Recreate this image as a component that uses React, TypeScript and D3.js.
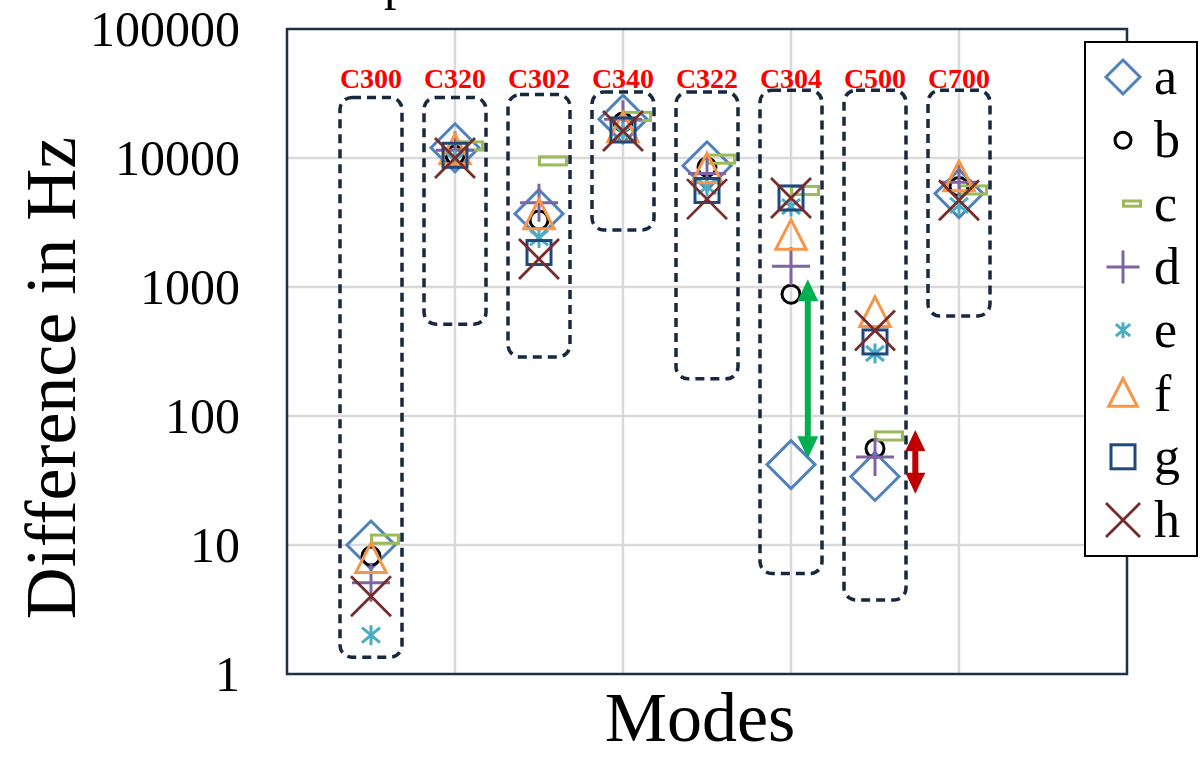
import { useEffect, useRef } from "react";
import * as d3 from "d3";

// modes (x = 1..8)
const modes = ["C300", "C320", "C302", "C340", "C322", "C304", "C500", "C700"];
const modeX = [1, 2, 3, 4, 5, 6, 7, 8];

// series values (Hz), null = no point
const seriesA = [10, 12000, 3700, 20000, 8700, 42, 34, 5300];
const seriesB = [8.2, 10500, 3300, 19000, 8500, 880, 56, 6000];
const seriesC = [11.1, 12400, 9500, 21000, 9800, 5600, 70, 5650];
const seriesD = [5.1, 11500, 4500, 20000, 7600, 1450, 48, 6500];
const seriesE = [2.0, 9600, 2400, 15700, 6000, 4200, 305, 4300];
const seriesF = [7.8, 11500, 3600, 17000, 8200, 2500, 630, 7100];
const seriesG = [null, 10500, 1850, 16500, 5600, 4900, 375, null];
const seriesH = [4.0, 10000, 1650, 16200, 4800, 4900, 460, 4700];

const seriesNames = ["a", "b", "c", "d", "e", "f", "g", "h"];
const seriesValues = [seriesA, seriesB, seriesC, seriesD, seriesE, seriesF, seriesG, seriesH];

// dashed group boxes (value range per mode)
const boxTop = [29500, 29500, 31000, 32500, 32500, 33500, 33500, 33500];
const boxBottom = [1.35, 515, 287, 2770, 194, 6, 3.75, 596];

// y ticks
const yTicks = [1, 10, 100, 1000, 10000, 100000];
const xGrid = [2, 4, 6, 8];

// arrows [x, from, to]
const greenArrow = [6.2, 1150, 47];
const redArrow = [7.48, 78, 25];

const SERIF = "'Liberation Serif', 'Times New Roman', serif";

const styles = [
  { shape: "diamond", color: "#4F81BD", size: 24, legend: 17 },
  { shape: "circle", color: "#000000", size: 9, legend: 8 },
  { shape: "dash", color: "#9BBB59", size: 14, legend: 9 },
  { shape: "plus", color: "#8064A2", size: 19, legend: 16.5 },
  { shape: "star", color: "#4BACC6", size: 10, legend: 8 },
  { shape: "triangle", color: "#F79646", size: 16, legend: 15 },
  { shape: "square", color: "#1F497D", size: 12, legend: 12 },
  { shape: "cross", color: "#772C2A", size: 20, legend: 17 },
];

const drawMarker = (g: any, shape: string, color: string, s: number) => {
  const sw = 3;
  if (shape === "diamond") {
    g.append("path")
      .attr("d", `M0,${-s}L${s},0L0,${s}L${-s},0Z`)
      .attr("fill", "none").attr("stroke", color).attr("stroke-width", sw);
  } else if (shape === "circle") {
    g.append("circle").attr("r", s)
      .attr("fill", "none").attr("stroke", color).attr("stroke-width", sw);
  } else if (shape === "dash") {
    g.append("rect").attr("x", 0.5).attr("y", -s * 0.29)
      .attr("width", 2 * s - 1).attr("height", s * 0.58)
      .attr("fill", "none").attr("stroke", color).attr("stroke-width", sw);
  } else if (shape === "plus") {
    g.append("path").attr("d", `M${-s},0L${s},0M0,${-s}L0,${s}`)
      .attr("stroke", color).attr("stroke-width", sw);
  } else if (shape === "star") {
    g.append("path")
      .attr("d", `M0,${-s}L0,${s}M${-s * 0.9},${-s * 0.75}L${s * 0.9},${s * 0.75}M${-s * 0.9},${s * 0.75}L${s * 0.9},${-s * 0.75}`)
      .attr("stroke", color).attr("stroke-width", sw);
  } else if (shape === "triangle") {
    g.append("path")
      .attr("d", `M0,${-s}L${s * 0.95},${s * 0.85}L${-s * 0.95},${s * 0.85}Z`)
      .attr("fill", "none").attr("stroke", color).attr("stroke-width", sw)
      .attr("stroke-linejoin", "miter");
  } else if (shape === "square") {
    g.append("rect").attr("x", -s).attr("y", -s).attr("width", 2 * s).attr("height", 2 * s)
      .attr("fill", "none").attr("stroke", color).attr("stroke-width", sw);
  } else if (shape === "cross") {
    g.append("path").attr("d", `M${-s},${-s}L${s},${s}M${-s},${s}L${s},${-s}`)
      .attr("stroke", color).attr("stroke-width", 2.8);
  }
};

const arrowPath = (x: number, y1: number, y2: number, head: number, hw: number, sw: number) =>
  `M${x},${y1}L${x + hw},${y1 + head}L${x + sw},${y1 + head}L${x + sw},${y2 - head}` +
  `L${x + hw},${y2 - head}L${x},${y2}L${x - hw},${y2 - head}L${x - sw},${y2 - head}` +
  `L${x - sw},${y1 + head}L${x - hw},${y1 + head}Z`;

const App = () => {
  const svgRef = useRef(null);

  useEffect(() => {
    const svg = d3.select(svgRef.current);
    svg.selectAll("*").remove();
    const width = 1200;
    const height = 757;
    const plot = { left: 287, right: 1127, top: 29, bottom: 674 };

    svg.attr("width", width).attr("height", height);

    const x = d3.scaleLinear().domain([0, 10]).range([plot.left, plot.right]);
    const y = d3.scaleLog().domain([1, 100000]).range([plot.bottom, plot.top]);

    // cut-off title remnant (reference shows only its descender)
    svg.append("text").attr("x", 384).attr("y", -1)
      .attr("font-family", SERIF).attr("font-size", 50).text("p");

    // grid
    svg.append("g").selectAll("line.h").data(yTicks.slice(1, -1)).enter().append("line")
      .attr("x1", plot.left).attr("x2", plot.right)
      .attr("y1", (d) => y(d)).attr("y2", (d) => y(d))
      .attr("stroke", "#D9D9D9").attr("stroke-width", 2.5);
    svg.append("g").selectAll("line.v").data(xGrid).enter().append("line")
      .attr("x1", (d) => x(d)).attr("x2", (d) => x(d))
      .attr("y1", plot.top).attr("y2", plot.bottom)
      .attr("stroke", "#D9D9D9").attr("stroke-width", 2.5);

    // frame
    svg.append("rect")
      .attr("x", plot.left).attr("y", plot.top)
      .attr("width", plot.right - plot.left).attr("height", plot.bottom - plot.top)
      .attr("fill", "none").attr("stroke", "#1F2F45").attr("stroke-width", 2.5);

    // y tick labels
    svg.append("g").selectAll("text").data(yTicks).enter().append("text")
      .attr("x", 240).attr("y", (d) => y(d)).attr("dy", "0.34em")
      .attr("text-anchor", "end").attr("font-family", SERIF).attr("font-size", 50)
      .text((d) => String(d));

    // axis titles
    svg.append("text")
      .attr("transform", "translate(75,378) rotate(-90)")
      .attr("text-anchor", "middle").attr("font-family", SERIF).attr("font-size", 72)
      .text("Difference in Hz");
    svg.append("text")
      .attr("x", 700).attr("y", 741)
      .attr("text-anchor", "middle").attr("font-family", SERIF).attr("font-size", 70)
      .text("Modes");

    // dashed boxes
    svg.append("g").selectAll("rect").data(modes).enter().append("rect")
      .attr("x", (_d, i) => x(modeX[i]) - 31)
      .attr("y", (_d, i) => y(boxTop[i]))
      .attr("width", 62)
      .attr("height", (_d, i) => y(boxBottom[i]) - y(boxTop[i]))
      .attr("rx", 12)
      .attr("fill", "none").attr("stroke", "#17283F").attr("stroke-width", 3.5)
      .attr("stroke-dasharray", "9 6");

    // mode labels
    svg.append("g").selectAll("text").data(modes).enter().append("text")
      .attr("x", (_d, i) => x(modeX[i])).attr("y", 88)
      .attr("text-anchor", "middle").attr("font-family", SERIF)
      .attr("font-weight", "bold").attr("font-size", 28).attr("fill", "#FF0000")
      .text((d) => d);

    // markers
    seriesValues.forEach((vals, si) => {
      const st = styles[si];
      vals.forEach((v, i) => {
        if (v == null) return;
        const g = svg.append("g").attr("transform", `translate(${x(modeX[i])},${y(v)})`);
        drawMarker(g, st.shape, st.color, st.size);
      });
    });

    // arrows
    svg.append("path")
      .attr("d", arrowPath(x(greenArrow[0]), y(greenArrow[1]), y(greenArrow[2]), 22, 10.5, 3))
      .attr("fill", "#00B050");
    svg.append("path")
      .attr("d", arrowPath(x(redArrow[0]), y(redArrow[1]), y(redArrow[2]), 21, 10, 3))
      .attr("fill", "#C00000");

    // legend
    const legend = svg.append("g");
    legend.append("rect")
      .attr("x", 1085).attr("y", 42).attr("width", 112).attr("height", 514)
      .attr("fill", "#FFFFFF").attr("stroke", "#000000").attr("stroke-width", 2);
    seriesNames.forEach((name, i) => {
      const cy = 77 + i * 63.3;
      const st = styles[i];
      const g = legend.append("g").attr("transform", `translate(1123,${cy})`);
      drawMarker(g, st.shape, st.color, st.legend);
      legend.append("text")
        .attr("x", 1154).attr("y", cy + 17)
        .attr("font-family", SERIF).attr("font-size", 52)
        .text(name);
    });
  }, []);

  return (
    <svg
      ref={svgRef}
      style={{ position: "absolute", left: 0, top: 0, display: "block" }}
    ></svg>
  );
};

export default App;
